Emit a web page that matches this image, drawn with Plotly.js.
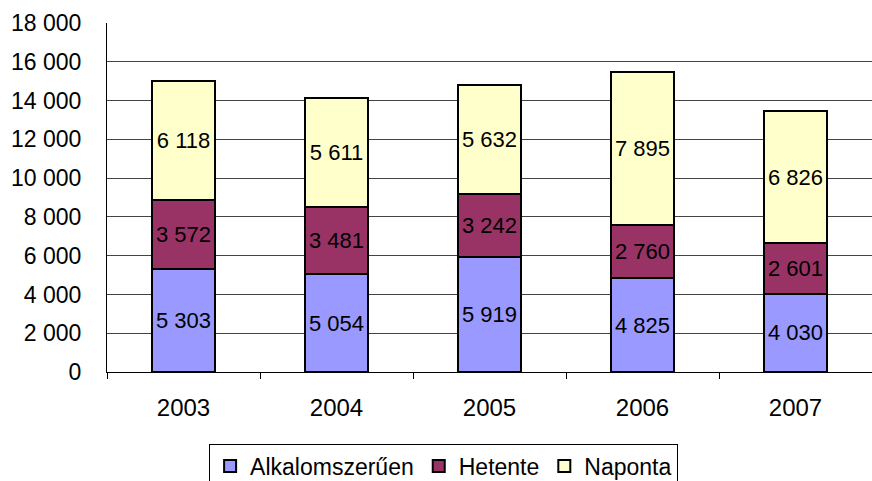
<!DOCTYPE html>
<html>
<head>
<meta charset="utf-8">
<script src="https://cdn.plot.ly/plotly-3.0.1.min.js"></script>
<style>html,body{margin:0;padding:0;background:#fff;}#chart{width:872px;height:481px;}</style>
</head>
<body>
<div id="chart"></div>
<script>
const years = ['2003', '2004', '2005', '2006', '2007'];
const alkalomszeruen = [5303, 5054, 5919, 4825, 4030];
const hetente = [3572, 3481, 3242, 2760, 2601];
const naponta = [6118, 5611, 5632, 7895, 6826];
const seriesNames = ['Alkalomszerűen', 'Hetente', 'Naponta'];
const seriesColors = ['#9999FF', '#993366', '#FFFFCC'];
const seriesValues = [alkalomszeruen, hetente, naponta];

const font = 'Liberation Sans, Arial, sans-serif';
const traces = seriesValues.map((vals, i) => ({
  type: 'bar',
  name: seriesNames[i],
  x: years,
  y: vals,
  marker: {color: seriesColors[i], line: {color: '#000', width: 2}},
  texttemplate: '%{y:,d}',
  textposition: 'inside',
  insidetextanchor: 'middle',
  textangle: 0,
  constraintext: 'none',
  textfont: {family: font, size: 22, color: '#000'},
  hoverinfo: 'skip'
}));

const layout = {
  width: 872, height: 481,
  margin: {l: 107, r: 0, t: 23, b: 109, autoexpand: false},
  barmode: 'stack',
  bargap: 0.59,
  separators: ', ',
  paper_bgcolor: '#fff',
  plot_bgcolor: '#fff',
  font: {family: font, size: 20, color: '#000'},
  showlegend: true,
  legend: {
    orientation: 'h', x: 0.44, xanchor: 'center', y: -0.205, yanchor: 'top',
    bordercolor: '#000', borderwidth: 1,
    font: {family: font, size: 23, color: '#000'},
    traceorder: 'normal', itemwidth: 30, tracegroupgap: 0
  },
  xaxis: {
    type: 'category',
    showline: true, linecolor: '#000', linewidth: 1,
    ticks: 'outside', tickson: 'boundaries', ticklen: 6, tickcolor: '#000',
    ticklabelstandoff: 14,
    tickfont: {family: font, size: 24, color: '#000'},
    showgrid: false
  },
  yaxis: {
    range: [0, 18000], dtick: 2000, tickformat: ',d',
    showline: true, linecolor: '#000', linewidth: 1,
    showgrid: true, gridcolor: '#444', gridwidth: 1,
    ticks: '', ticklabelstandoff: 20,
    tickfont: {family: font, size: 23, color: '#000'},
    zeroline: false
  }
};

Plotly.newPlot('chart', traces, layout, {displayModeBar: false, staticPlot: true});
</script>
</body>
</html>
